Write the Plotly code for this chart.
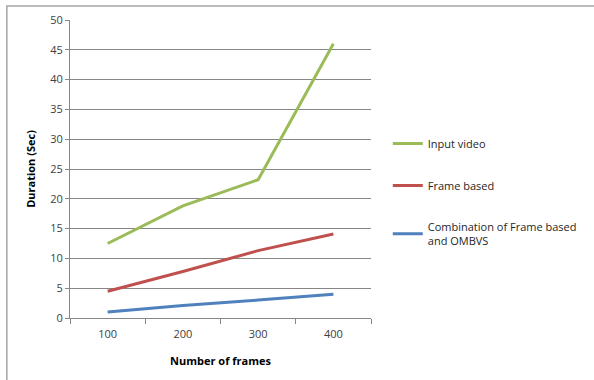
import plotly.graph_objects as go

categories = ["100", "200", "300", "400"]
input_video = [12.5, 18.8, 23.2, 46.0]
frame_based = [4.5, 7.8, 11.3, 14.1]
combination = [1.0, 2.1, 3.0, 4.0]
y_ticks = [0, 5, 10, 15, 20, 25, 30, 35, 40, 45, 50]

FONT = "Open Sans"

fig = go.Figure()
series = [
    ("Input video", input_video, "#9BBB59"),
    ("Frame based", frame_based, "#C0504D"),
    ("Combination of Frame based<br>and OMBVS", combination, "#4F81BD"),
]
for i, (name, vals, color) in enumerate(series):
    fig.add_trace(go.Scatter(
        x=categories, y=vals, mode="lines", name=name,
        line=dict(color=color, width=3), legendgroup=f"g{i}",
    ))

L, R, T, B = 70, 219, 20, 62
W, H = 594, 380
pw, ph = W - L - R, H - T - B

fig.update_layout(
    width=W, height=H,
    margin=dict(l=L, r=R, t=T, b=B),
    paper_bgcolor="white", plot_bgcolor="white",
    font=dict(family=FONT, size=11, color="#262626"),
    showlegend=True,
    legend=dict(
        x=(392 - L) / pw, y=1 - (129 - T) / ph, xanchor="left", yanchor="top",
        font=dict(family=FONT, size=11, color="#262626"),
        tracegroupgap=23, itemwidth=30,
        bgcolor="rgba(0,0,0,0)",
    ),
    xaxis=dict(
        type="category", range=[-0.5, 3.5],
        showgrid=False, showline=True, linecolor="#868686", linewidth=1,
        ticks="outside", ticklen=5, tickcolor="#868686",
        tickson="boundaries", ticklabelstandoff=6,
        title=dict(text="<b>Number of frames</b>", font=dict(family=FONT, size=11, color="#000000"), standoff=17),
        tickfont=dict(family=FONT, size=11, color="#404040"),
    ),
    yaxis=dict(
        range=[0, 50], tickvals=y_ticks,
        showgrid=True, gridcolor="#868686", gridwidth=1,
        showline=True, linecolor="#868686", linewidth=1,
        ticks="outside", ticklen=4, tickcolor="#868686",
        zeroline=False,
        title=dict(text="<b>Duration (Sec)</b>", font=dict(family=FONT, size=11, color="#000000"), standoff=12),
        tickfont=dict(family=FONT, size=11, color="#404040"),
    ),
)

# outer chart border (partially outside the visible window)
fig.add_shape(
    type="rect", xref="paper", yref="paper",
    x0=(6 - L) / pw, x1=(W + 10 - L) / pw,
    y0=-(H + 10 - (H - B)) / ph, y1=1 + (T - 6) / ph,
    line=dict(color="#A6A6A6", width=1.5), fillcolor="rgba(0,0,0,0)", layer="below",
)

fig.write_html("out.html")
